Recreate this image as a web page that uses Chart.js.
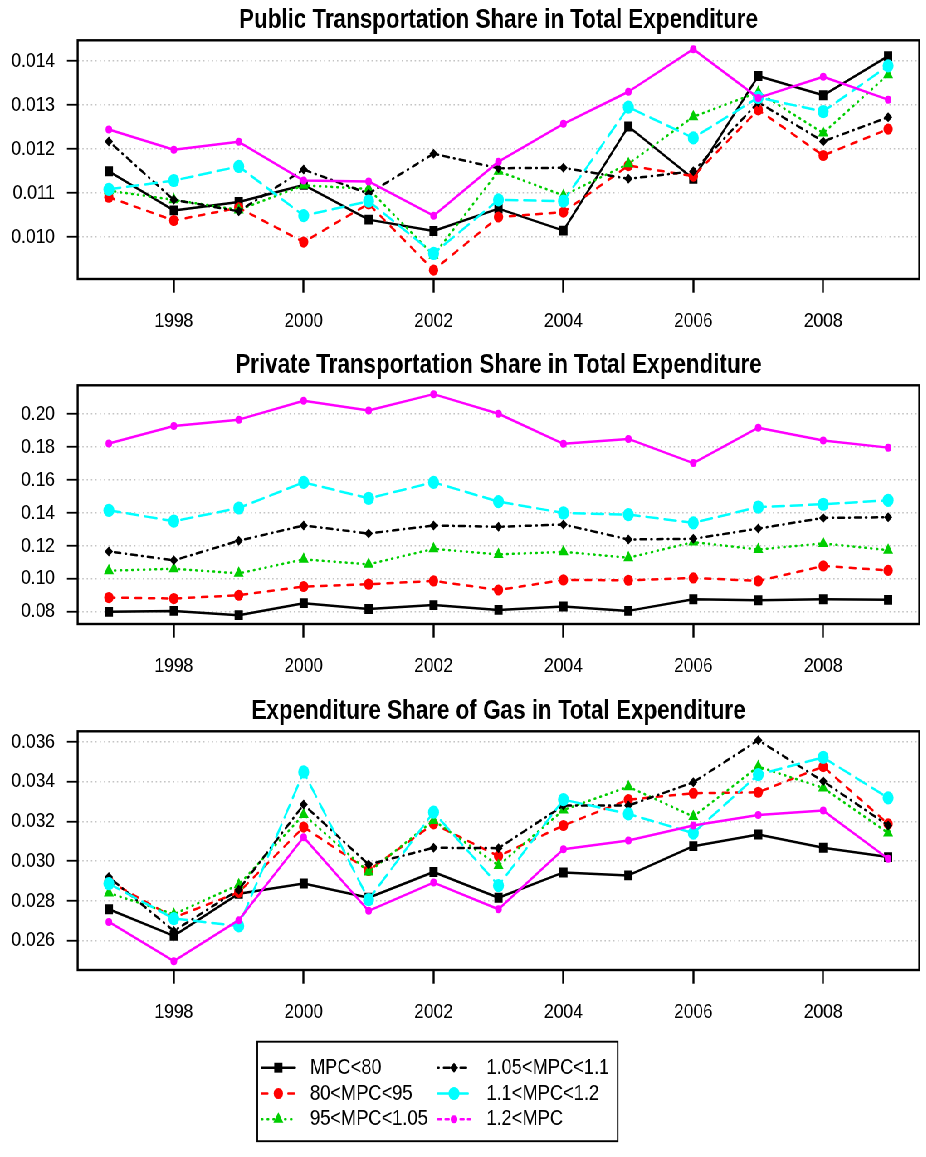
<!DOCTYPE html>
<html>
<head>
<meta charset="utf-8">
<title>Transportation and gas expenditure shares by MPC group</title>
<script src="https://cdn.jsdelivr.net/npm/chart.js@4.4.1/dist/chart.umd.min.js"></script>
<style>
  html, body { margin: 0; padding: 0; background: #ffffff; }
  /* the figure is laid out on a wider sheet and squeezed horizontally to its final width */
  #sheet { position: absolute; left: 0; top: 0; width: 1116px; height: 1157px;
           transform: scaleX(0.83); transform-origin: 0 0; }
  #sheet canvas { position: absolute; left: 0; }
</style>
</head>
<body>
<div id="sheet">
  <canvas id="panelPublic" width="1116" height="345" style="top:0px"></canvas>
  <canvas id="panelPrivate" width="1116" height="346" style="top:345px"></canvas>
  <canvas id="panelGas" width="1116" height="466" style="top:691px"></canvas>
</div>
<script>
// ---------------- data ----------------
const years = [1997, 1998, 1999, 2000, 2001, 2002, 2003, 2004, 2005, 2006, 2007, 2008, 2009];
const yearTicks = [1998, 2000, 2002, 2004, 2006, 2008];
const groups = ['MPC<80', '80<MPC<95', '95<MPC<1.05', '1.05<MPC<1.1', '1.1<MPC<1.2', '1.2<MPC'];

// public transportation share
const publicMpc80    = [0.01149, 0.01060, 0.01079, 0.01118, 0.01039, 0.01013, 0.01064, 0.01014, 0.01251, 0.01132, 0.01366, 0.01322, 0.01411];
const publicMpc95    = [0.01090, 0.01037, 0.01066, 0.00988, 0.01075, 0.00924, 0.01045, 0.01056, 0.01162, 0.01138, 0.01289, 0.01185, 0.01245];
const publicMpc105   = [0.01105, 0.01084, 0.01061, 0.01117, 0.01109, 0.00958, 0.01149, 0.01094, 0.01166, 0.01273, 0.01329, 0.01236, 0.01369];
const publicMpc110   = [0.01217, 0.01084, 0.01058, 0.01153, 0.01098, 0.01189, 0.01156, 0.01157, 0.01132, 0.01149, 0.01306, 0.01217, 0.01272];
const publicMpc120   = [0.01108, 0.01128, 0.01160, 0.01048, 0.01081, 0.00962, 0.01084, 0.01081, 0.01295, 0.01225, 0.01317, 0.01285, 0.01389];
const publicMpcHigh  = [0.01244, 0.01198, 0.01216, 0.01128, 0.01126, 0.01048, 0.01171, 0.01257, 0.01330, 0.01427, 0.01316, 0.01364, 0.01312];
const publicTicks = [0.010, 0.011, 0.012, 0.013, 0.014];
const publicTickLabels = ['0.010', '0.011', '0.012', '0.013', '0.014'];

// private transportation share
const privateMpc80   = [0.0798, 0.0804, 0.0778, 0.0851, 0.0815, 0.0839, 0.0810, 0.0831, 0.0804, 0.0875, 0.0869, 0.0875, 0.0871];
const privateMpc95   = [0.0885, 0.0879, 0.0899, 0.0952, 0.0966, 0.0986, 0.0931, 0.0992, 0.0990, 0.1004, 0.0986, 0.1077, 0.1050];
const privateMpc105  = [0.1048, 0.1060, 0.1032, 0.1117, 0.1087, 0.1181, 0.1147, 0.1163, 0.1127, 0.1222, 0.1177, 0.1214, 0.1173];
const privateMpc110  = [0.1165, 0.1111, 0.1230, 0.1323, 0.1274, 0.1323, 0.1315, 0.1329, 0.1238, 0.1242, 0.1304, 0.1369, 0.1373];
const privateMpc120  = [0.1415, 0.1349, 0.1429, 0.1585, 0.1488, 0.1585, 0.1468, 0.1399, 0.1389, 0.1339, 0.1435, 0.1452, 0.1476];
const privateMpcHigh = [0.1821, 0.1927, 0.1966, 0.2081, 0.2022, 0.2121, 0.2002, 0.1819, 0.1849, 0.1702, 0.1917, 0.1839, 0.1796];
const privateTicks = [0.08, 0.10, 0.12, 0.14, 0.16, 0.18, 0.20];
const privateTickLabels = ['0.08', '0.10', '0.12', '0.14', '0.16', '0.18', '0.20'];

// gas share
const gasMpc80   = [0.02758, 0.02624, 0.02836, 0.02887, 0.02816, 0.02945, 0.02816, 0.02943, 0.02928, 0.03075, 0.03134, 0.03067, 0.03020];
const gasMpc95   = [0.02900, 0.02716, 0.02843, 0.03171, 0.02953, 0.03187, 0.03025, 0.03179, 0.03309, 0.03341, 0.03346, 0.03475, 0.03187];
const gasMpc105  = [0.02840, 0.02733, 0.02881, 0.03234, 0.02945, 0.03204, 0.02978, 0.03257, 0.03374, 0.03224, 0.03475, 0.03368, 0.03141];
const gasMpc110  = [0.02920, 0.02649, 0.02856, 0.03284, 0.02983, 0.03067, 0.03065, 0.03279, 0.03279, 0.03396, 0.03608, 0.03401, 0.03179];
const gasMpc120  = [0.02887, 0.02711, 0.02674, 0.03448, 0.02806, 0.03246, 0.02877, 0.03309, 0.03237, 0.03141, 0.03435, 0.03521, 0.03318];
const gasMpcHigh = [0.02694, 0.02497, 0.02703, 0.03120, 0.02750, 0.02892, 0.02758, 0.03059, 0.03104, 0.03179, 0.03232, 0.03254, 0.03012];
const gasTicks = [0.026, 0.028, 0.030, 0.032, 0.034, 0.036];
const gasTickLabels = ['0.026', '0.028', '0.030', '0.032', '0.034', '0.036'];

// ---------------- series styling ----------------
const seriesColors  = ['#000000', '#ff0000', '#00cd00', '#000000', '#00ffff', '#ff00ff'];
const seriesDash    = [[], [7, 9], [1, 6], [1, 6, 7, 6], [14, 8], []];
const legendDash    = [[], [7, 9], [1, 6], [1, 6, 7, 6], [14, 8], [4, 5]];
const seriesMarkers = ['rect', 'circle', 'triangle', 'rectRot', 'circle', 'circle'];
const markerRadius  = [7, 5.6, 7, 5, 6.6, 4];

const FONT = '"Liberation Sans", Arial, Helvetica, sans-serif';
const AREA_LEFT = 93.6;       // width reserved for the value axis
const AREA_RIGHT_PAD = 8.4;
const AREA_BOTTOM = 279;      // bottom of the plotting box inside each canvas

// R-style axis range: data range widened by 4% on each side
function paddedRange(values) {
  const lo = Math.min(...values), hi = Math.max(...values);
  const pad = (hi - lo) * 0.04;
  return [lo - pad, hi + pad];
}

// frame around the plotting region
const framePlugin = {
  id: 'plotFrame',
  afterDraw(chart) {
    const a = chart.chartArea, ctx = chart.ctx;
    ctx.save();
    ctx.lineWidth = 2.4;
    ctx.strokeStyle = '#000';
    ctx.setLineDash([]);
    ctx.strokeRect(a.left, a.top, a.right - a.left, a.bottom - a.top);
    ctx.restore();
  }
};

// boxed two-column key built from the datasets
const keyPlugin = {
  id: 'groupKey',
  afterDraw(chart, args, opts) {
    if (!opts || !opts.display) return;
    const ctx = chart.ctx;
    ctx.save();
    ctx.lineWidth = 1.9;
    ctx.strokeStyle = '#000';
    ctx.setLineDash([]);
    ctx.strokeRect(opts.left, opts.top, opts.width, opts.height);
    chart.data.datasets.forEach((ds, i) => {
      const col = opts.columns[Math.floor(i / opts.rows)];
      const y = opts.firstRow + (i % opts.rows) * opts.rowGap;
      ctx.beginPath();
      ctx.lineWidth = ds.borderWidth;
      ctx.strokeStyle = ds.borderColor;
      ctx.lineCap = 'round';
      ctx.setLineDash(ds.keyDash || []);
      ctx.moveTo(col.lineStart, y);
      ctx.lineTo(col.lineEnd, y);
      ctx.stroke();
      ctx.setLineDash([]);
      ctx.fillStyle = ds.pointBackgroundColor;
      ctx.strokeStyle = ds.pointBackgroundColor;
      const cx = (col.lineStart + col.lineEnd) / 2;
      if (Chart.helpers && Chart.helpers.drawPoint) {
        Chart.helpers.drawPoint(ctx, { pointStyle: ds.pointStyle, radius: ds.pointRadius, rotation: 0, borderWidth: 0 }, cx, y);
      } else {
        ctx.beginPath(); ctx.arc(cx, y, ds.pointRadius, 0, Math.PI * 2); ctx.fill();
      }
      ctx.fillStyle = '#000';
      ctx.font = '22px ' + FONT;
      ctx.textBaseline = 'middle';
      ctx.textAlign = 'left';
      ctx.fillText(ds.label, col.textX, y);
    });
    ctx.restore();
  }
};

const panels = [
  { canvas: 'panelPublic', title: 'Public Transportation Share in Total Expenditure',
    series: [publicMpc80, publicMpc95, publicMpc105, publicMpc110, publicMpc120, publicMpcHigh],
    ticks: publicTicks, tickLabels: publicTickLabels, bottomPad: 0, key: false },
  { canvas: 'panelPrivate', title: 'Private Transportation Share in Total Expenditure',
    series: [privateMpc80, privateMpc95, privateMpc105, privateMpc110, privateMpc120, privateMpcHigh],
    ticks: privateTicks, tickLabels: privateTickLabels, bottomPad: 0, key: false },
  { canvas: 'panelGas', title: 'Expenditure Share of Gas in Total Expenditure',
    series: [gasMpc80, gasMpc95, gasMpc105, gasMpc110, gasMpc120, gasMpcHigh],
    ticks: gasTicks, tickLabels: gasTickLabels, bottomPad: 121, key: true }
];

const [xMin, xMax] = paddedRange(years);

panels.forEach(panel => {
  const el = document.getElementById(panel.canvas);
  const [yMin, yMax] = paddedRange(panel.series.flat());
  const xAxisHeight = el.height - panel.bottomPad - AREA_BOTTOM;

  new Chart(el, {
    type: 'line',
    data: {
      datasets: groups.map((name, i) => ({
        label: name,
        data: years.map((yr, k) => ({ x: yr, y: panel.series[i][k] })),
        borderColor: seriesColors[i],
        backgroundColor: seriesColors[i],
        borderWidth: 2.5,
        borderDash: seriesDash[i],
        borderCapStyle: 'round',
        borderJoinStyle: 'round',
        keyDash: legendDash[i],
        pointStyle: seriesMarkers[i],
        pointRadius: markerRadius[i],
        pointHoverRadius: markerRadius[i],
        pointBackgroundColor: seriesColors[i],
        pointBorderColor: seriesColors[i],
        pointBorderWidth: 0,
        tension: 0,
        fill: false,
        order: groups.length - i
      }))
    },
    options: {
      responsive: false,
      animation: false,
      devicePixelRatio: 1,
      events: [],
      layout: { autoPadding: false, padding: { left: 0, right: AREA_RIGHT_PAD, top: 0, bottom: panel.bottomPad } },
      plugins: {
        legend: { display: false },
        tooltip: { enabled: false },
        title: {
          display: true, text: panel.title, fullSize: false, align: 'center', color: '#000',
          font: { family: FONT, size: 27, weight: 'bold', lineHeight: 1.2 },
          padding: { top: 4.8, bottom: 3.1 }
        },
        groupKey: panel.key ? {
          display: true, left: 310, top: 350.7, width: 434.2, height: 99.5,
          rows: 3, firstRow: 376.7, rowGap: 25.8,
          columns: [
            { lineStart: 315.3, lineEnd: 355.4, textX: 373.5 },
            { lineStart: 527.7, lineEnd: 566.3, textX: 586 }
          ]
        } : { display: false }
      },
      scales: {
        x: {
          type: 'linear', min: xMin, max: xMax,
          afterBuildTicks: s => { s.ticks = yearTicks.map(v => ({ value: v })); },
          afterFit: s => { s.height = xAxisHeight; },
          grid: { display: true, drawOnChartArea: false, drawTicks: true, tickLength: 13.7, tickWidth: 2.4, tickColor: '#000' },
          border: { display: false },
          ticks: { color: '#000', padding: 16, maxRotation: 0, autoSkip: false,
                   font: { family: FONT, size: 21 }, callback: v => String(v) }
        },
        y: {
          type: 'linear', min: yMin, max: yMax,
          afterBuildTicks: s => { s.ticks = panel.ticks.map(v => ({ value: v })); },
          afterFit: s => { s.width = AREA_LEFT; },
          grid: { display: true, drawOnChartArea: true, color: '#c4c4c4', lineWidth: 1.5,
                  drawTicks: true, tickLength: 12.9, tickWidth: 1.8, tickColor: '#000' },
          border: { display: false, dash: [1.6, 3.6] },
          ticks: { color: '#000', padding: 14.4, autoSkip: false,
                   font: { family: FONT, size: 21 },
                   callback: v => { const k = panel.ticks.indexOf(v); return k >= 0 ? panel.tickLabels[k] : ''; } }
        }
      }
    },
    plugins: [framePlugin, keyPlugin]
  });
});
</script>
</body>
</html>
